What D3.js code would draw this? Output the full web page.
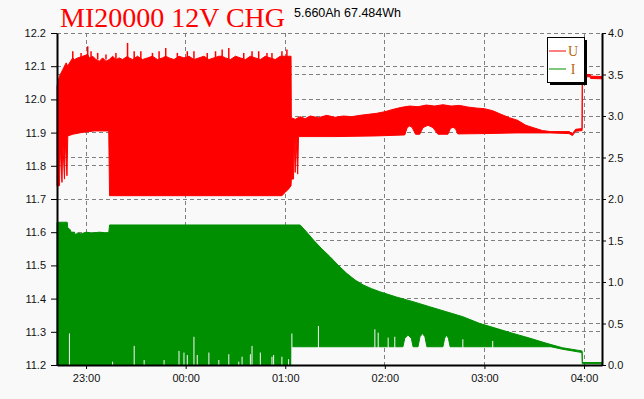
<!DOCTYPE html>
<html>

<head>
  <title>MI20000 12V CHG</title>
  <meta charset="UTF-8">
  <script src="https://d3js.org/d3.v7.min.js"></script>
  <style type="text/css">
    body {
      margin: 0;
      background: #f9f9f9;
    }

    svg {
      display: block;
      font-family: "Liberation Sans", Arial, sans-serif;
    }
  </style>
</head>

<body>
  <script type="text/javascript">
    // Values

    var title = "MI20000 12V CHG";
    var summary = "5.660Ah 67.484Wh";
    var timeStart = "22:42:30", timeEnd = "04:10:50";
    var uTicks = [11.2, 11.3, 11.4, 11.5, 11.6, 11.7, 11.8, 11.9, 12.0, 12.1, 12.2];
    var iTicks = [0, 0.5, 1.0, 1.5, 2.0, 2.5, 3.0, 3.5, 4.0];
    var legendNames = ["U", "I"];
    var seriesColors = ["#ff0000", "#008f00"];

    // U (volts, left axis): upper and lower edge of the pulsing trace
    var uUpper = [
      ["22:42:30", 12.04], ["22:44", 12.07], ["22:46", 12.09], ["22:48", 12.11], ["22:49", 12.10],
      ["22:50", 12.11], ["22:52", 12.125], ["22:53", 12.12], ["22:55", 12.125], ["22:58", 12.13],
      ["23:01", 12.135], ["23:02", 12.125], ["23:04", 12.13], ["23:06", 12.12], ["23:08", 12.115],
      ["23:10", 12.125], ["23:12", 12.115], ["23:14", 12.12], ["23:16", 12.13], ["23:18", 12.12],
      ["23:20", 12.125], ["23:22", 12.12], ["23:25", 12.13], ["23:26", 12.125], ["23:28", 12.12],
      ["23:31", 12.13], ["23:34", 12.12], ["23:37", 12.125], ["23:40", 12.13], ["23:43", 12.12],
      ["23:46", 12.125], ["23:48", 12.13], ["23:50", 12.125], ["23:53", 12.12], ["23:56", 12.13],
      ["23:59", 12.125], ["00:02", 12.13], ["00:05", 12.12], ["00:08", 12.125], ["00:11", 12.13],
      ["00:14", 12.12], ["00:17", 12.125], ["00:20", 12.13], ["00:22", 12.13], ["00:24", 12.125],
      ["00:27", 12.12], ["00:30", 12.13], ["00:33", 12.125], ["00:36", 12.12], ["00:39", 12.13],
      ["00:42", 12.125], ["00:45", 12.12], ["00:48", 12.13], ["00:51", 12.125], ["00:54", 12.12],
      ["00:57", 12.13], ["01:00", 12.13], ["01:02", 12.13], ["01:03:30", 12.13],
      ["01:03:40", 11.945], ["01:06", 11.94], ["01:09", 11.948], ["01:12", 11.942], ["01:15", 11.95],
      ["01:20", 11.945], ["01:25", 11.952], ["01:30", 11.946], ["01:35", 11.95], ["01:40", 11.948],
      ["01:45", 11.952], ["01:50", 11.955], ["01:55", 11.958], ["02:00", 11.963], ["02:05", 11.97],
      ["02:10", 11.976], ["02:15", 11.98], ["02:20", 11.978], ["02:25", 11.983], ["02:30", 11.98],
      ["02:35", 11.984], ["02:40", 11.98], ["02:45", 11.982], ["02:50", 11.977], ["02:55", 11.974],
      ["03:00", 11.972], ["03:05", 11.966], ["03:10", 11.955], ["03:15", 11.945], ["03:20", 11.937],
      ["03:25", 11.922], ["03:30", 11.914], ["03:35", 11.906], ["03:40", 11.903], ["03:51", 11.903],
      ["03:53", 11.897], ["03:55", 11.91], ["03:58:50", 11.912], ["03:59:00", 12.075],
      ["04:03:40", 12.075], ["04:04", 12.07], ["04:10:50", 12.069]
    ];
    var uLower = [
      ["22:42:30", 11.74], ["22:44", 11.74], ["22:44:30", 11.86], ["22:45:30", 11.75], ["22:46", 11.87],
      ["22:47", 11.76], ["22:47:30", 11.88], ["22:48:30", 11.77], ["22:49", 11.89], ["22:52", 11.895],
      ["22:57", 11.9], ["23:05", 11.905], ["23:13:40", 11.905], ["23:14:10", 11.71], ["00:58", 11.71],
      ["01:00", 11.72], ["01:02", 11.73], ["01:03:30", 11.74], ["01:03:40", 11.76], ["01:05", 11.76],
      ["01:05:20", 11.885], ["01:06", 11.78], ["01:06:30", 11.885], ["01:07:30", 11.775], ["01:08", 11.888],
      ["01:30", 11.888], ["01:55", 11.89], ["02:12", 11.893], ["02:13:30", 11.915], ["02:15", 11.92],
      ["02:16:30", 11.915], ["02:18:30", 11.895], ["02:21", 11.895], ["02:23", 11.915], ["02:26", 11.922],
      ["02:29", 11.915], ["02:32", 11.895], ["02:38", 11.895], ["02:39:30", 11.912], ["02:41", 11.916],
      ["02:42:30", 11.912], ["02:44", 11.896], ["03:00", 11.897], ["03:20", 11.899], ["03:40", 11.899],
      ["03:51", 11.897], ["03:53", 11.891], ["03:55", 11.904], ["03:58:50", 11.906], ["03:59:00", 12.068],
      ["04:03:40", 12.068], ["04:04", 12.063], ["04:10:50", 12.062]
    ];
    // tall voltage needles above the top edge during the pulse phase
    var uSpikes = [
      ["22:52", 12.145], ["22:57", 12.14], ["23:01", 12.16], ["23:03", 12.145], ["23:07", 12.14],
      ["23:12", 12.135], ["23:18", 12.14], ["23:25", 12.17], ["23:29", 12.145], ["23:33", 12.145],
      ["23:40", 12.14], ["23:44", 12.145], ["23:48", 12.155], ["23:55", 12.14], ["00:01", 12.145],
      ["00:05", 12.145], ["00:13", 12.14], ["00:18", 12.145], ["00:22", 12.15], ["00:26", 12.155],
      ["00:35", 12.14], ["00:40", 12.145], ["00:44", 12.145], ["00:49", 12.14], ["00:52", 12.14],
      ["00:58", 12.145], ["01:01", 12.15]
    ];

    // I (amps, right axis)
    var iUpper = [
      ["22:42:30", 1.72], ["22:48:40", 1.72], ["22:49", 1.65], ["22:50:30", 1.63], ["22:51", 1.60],
      ["22:53", 1.60], ["22:53:30", 1.57], ["22:55", 1.59], ["22:57", 1.58], ["23:00", 1.60],
      ["23:04", 1.59], ["23:08", 1.60], ["23:13:40", 1.59], ["23:14:10", 1.687], ["01:09", 1.687],
      ["01:13", 1.60], ["01:17", 1.506], ["01:22", 1.40], ["01:27", 1.305], ["01:32", 1.20],
      ["01:37", 1.105], ["01:42", 1.025], ["01:47", 0.964], ["01:52", 0.92], ["01:57", 0.883],
      ["02:07", 0.819], ["02:17", 0.763], ["02:27", 0.702], ["02:37", 0.642], ["02:47", 0.582],
      ["02:57", 0.502], ["03:07", 0.442], ["03:17", 0.382], ["03:27:30", 0.322], ["03:37:30", 0.261],
      ["03:47", 0.208], ["03:58:50", 0.169], ["03:59:00", 0.03], ["04:10:50", 0.03]
    ];
    var iLower = [
      ["22:42:30", 0], ["01:03:30", 0], ["01:03:40", 0.22], ["02:10:54", 0.22], ["02:12", 0.32],
      ["02:14", 0.36], ["02:16", 0.32], ["02:17", 0.22], ["02:20", 0.22], ["02:21:10", 0.34],
      ["02:22:40", 0.38], ["02:24:10", 0.34], ["02:25:20", 0.22], ["02:35", 0.22], ["02:36", 0.32],
      ["02:37:10", 0.36], ["02:38:20", 0.32], ["02:39:20", 0.22], ["03:40", 0.22], ["03:47", 0.19],
      ["03:58:50", 0.15], ["03:59:00", 0.015], ["04:10:50", 0.015]
    ];
    // short drop-outs in the current trace (white needles from the bottom)
    var iDips = [
      ["22:50", 0.38], ["23:16", 0.04], ["23:29", 0.23], ["23:35", 0.06], ["23:47", 0.06],
      ["23:56", 0.17], ["23:59", 0.15], ["00:01", 0.12], ["00:05", 0.34], ["00:07", 0.12],
      ["00:14", 0.15], ["00:20", 0.06], ["00:26", 0.13], ["00:32", 0.04], ["00:34", 0.10],
      ["00:39", 0.13], ["00:40", 0.23], ["00:45", 0.15], ["00:52", 0.10], ["00:53", 0.12],
      ["00:58", 0.10], ["01:02", 0.07], ["01:04", 0.38], ["01:20", 0.47], ["01:54", 0.43],
      ["01:56", 0.39], ["02:02", 0.33], ["02:06", 0.34], ["02:47", 0.31], ["03:05", 0.29]
    ];

    var margin = { top: 33, right: 42, bottom: 34, left: 57 },
      width = 644 - margin.left - margin.right,
      height = 399 - margin.top - margin.bottom;

    // clock text -> Date; hours before noon belong to the next day
    function parseClock(s) {
      var p = s.split(":").map(Number);
      return new Date(2020, 0, p[0] < 12 ? 2 : 1, p[0], p[1], p[2] || 0);
    }

    var x = d3.scaleTime()
      .domain([parseClock(timeStart), parseClock(timeEnd)])
      .range([0, width]);
    var yU = d3.scaleLinear().domain([11.2, 12.2]).range([height, 0]);
    var yI = d3.scaleLinear().domain([0, 4]).range([height, 0]);

    var svgRoot = d3.select('body').append('svg')
      .attr('width', 644)
      .attr('height', 399);
    svgRoot.append('rect').attr('width', 644).attr('height', 399).attr('fill', '#f9f9f9');

    // titles
    svgRoot.append('text')
      .attr('x', 60).attr('y', 27)
      .style('font-family', '"Liberation Serif", "Times New Roman", serif')
      .style('font-size', '28px')
      .style('fill', '#ff0000')
      .text(title);
    svgRoot.append('text')
      .attr('x', 294).attr('y', 17)
      .style('font-size', '12.5px')
      .style('fill', '#000')
      .text(summary);

    var svg = svgRoot.append('g')
      .attr('transform', 'translate(' + margin.left + ',' + margin.top + ')');

    // dashed grid for both value axes and the hours
    var grid = svg.append('g')
      .attr('stroke', '#808080')
      .attr('stroke-dasharray', '4,3')
      .attr('shape-rendering', 'crispEdges');
    uTicks.forEach(function (v) {
      grid.append('line').attr('x1', 0).attr('x2', width).attr('y1', yU(v)).attr('y2', yU(v));
    });
    iTicks.forEach(function (v) {
      grid.append('line').attr('x1', 0).attr('x2', width).attr('y1', yI(v)).attr('y2', yI(v));
    });
    x.ticks(d3.timeHour.every(1)).forEach(function (t) {
      grid.append('line').attr('x1', x(t)).attr('x2', x(t)).attr('y1', 0).attr('y2', height);
    });

    // band between upper and lower edge
    function bandPath(upper, lower, yScale) {
      var line = d3.line()
        .x(function (d) { return x(parseClock(d[0])); })
        .y(function (d) { return yScale(d[1]); });
      return line(upper) + line(lower.slice().reverse()).replace(/^M/, 'L') + 'Z';
    }

    svg.append('path')
      .attr('d', bandPath(iUpper, iLower, yI))
      .style('fill', seriesColors[1])
      .style('stroke', seriesColors[1])
      .style('stroke-width', 1);

    svg.selectAll('.dip')
      .data(iDips)
      .enter().append('line')
      .attr('class', 'dip')
      .attr('x1', function (d) { return x(parseClock(d[0])); })
      .attr('x2', function (d) { return x(parseClock(d[0])); })
      .attr('y1', yI(0))
      .attr('y2', function (d) { return yI(d[1]); })
      .style('stroke', '#f9f9f9')
      .style('stroke-width', 1);

    svg.append('path')
      .attr('d', bandPath(uUpper, uLower, yU))
      .style('fill', seriesColors[0])
      .style('stroke', seriesColors[0])
      .style('stroke-width', 1);

    svg.selectAll('.spike')
      .data(uSpikes)
      .enter().append('line')
      .attr('class', 'spike')
      .attr('x1', function (d) { return x(parseClock(d[0])); })
      .attr('x2', function (d) { return x(parseClock(d[0])); })
      .attr('y1', yU(12.12))
      .attr('y2', function (d) { return yU(d[1]); })
      .style('stroke', seriesColors[0])
      .style('stroke-width', 1.5);

    // axes
    var fmt = d3.format('.1f');
    var axes = [
      svg.append('g')
        .call(d3.axisLeft(yU).tickValues(uTicks).tickFormat(fmt).tickSize(6).tickSizeOuter(0).tickPadding(5)),
      svg.append('g')
        .attr('transform', 'translate(' + width + ',0)')
        .call(d3.axisRight(yI).tickValues(iTicks).tickFormat(fmt).tickSize(4).tickSizeOuter(0).tickPadding(2)),
      svg.append('g')
        .attr('transform', 'translate(0,' + height + ')')
        .call(d3.axisBottom(x).ticks(d3.timeHour.every(1)).tickFormat(d3.timeFormat('%H:%M'))
          .tickSize(4).tickSizeOuter(0).tickPadding(5))
    ];
    axes.forEach(function (a) {
      a.select('.domain').style('stroke', '#000').style('stroke-width', 2);
      a.selectAll('.tick line').style('stroke', '#000');
      a.selectAll('text')
        .style('font-family', '"Liberation Sans", Arial, sans-serif')
        .style('font-size', '11px')
        .style('fill', '#111');
    });

    // legend with drop shadow
    var legend = svgRoot.append('g').attr('transform', 'translate(547,37)');
    legend.append('rect').attr('x', 3).attr('y', 3).attr('width', 37).attr('height', 45).attr('fill', '#000');
    legend.append('rect').attr('x', 0.5).attr('y', 0.5).attr('width', 37).attr('height', 45)
      .attr('fill', '#fff').attr('stroke', '#000');
    legendNames.forEach(function (name, i) {
      legend.append('line')
        .attr('x1', 2).attr('x2', 19)
        .attr('y1', 14 + i * 18).attr('y2', 14 + i * 18)
        .style('stroke', seriesColors[i]);
      legend.append('text')
        .attr('x', 26).attr('y', 19 + i * 18)
        .attr('text-anchor', 'middle')
        .style('font-family', '"Liberation Serif", "Times New Roman", serif')
        .style('font-size', '14px')
        .style('fill', '#b8660b')
        .text(name);
    });
  </script>
</body>

</html>
